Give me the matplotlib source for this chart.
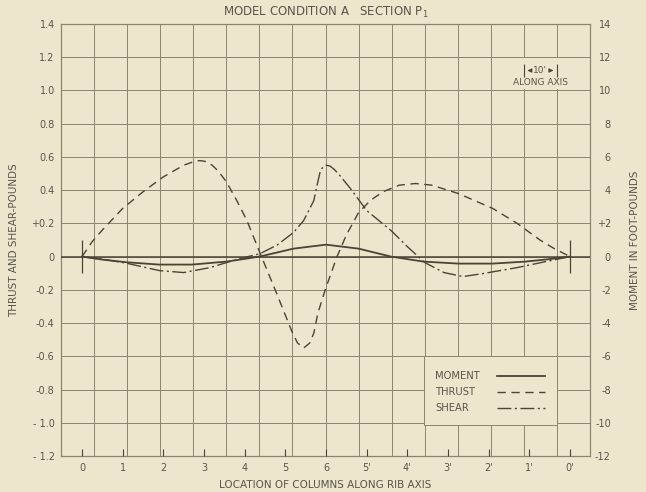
import matplotlib
matplotlib.use("Agg")
import matplotlib.pyplot as plt
from matplotlib.lines import Line2D
from matplotlib.patches import Rectangle

# ---------------- data ----------------
columns = ["0", "1", "2", "3", "4", "5", "6", "5'", "4'", "3'", "2'", "1'", "0'"]
column_pos = list(range(13))

thrust_x = [0, 0.25, 0.5, 1.0, 1.5, 2.0, 2.5, 2.75, 2.9, 3.05, 3.2, 3.35, 3.55, 3.8,
            4.05, 4.38, 4.8, 5.16, 5.3, 5.45, 5.6, 5.7, 5.8, 5.98, 6.27, 6.5, 6.8,
            7.1, 7.4, 7.8, 8.2, 8.6, 9.25, 10.1, 10.7, 11.26, 11.6, 12]
thrust_y = [0, 0.09, 0.16, 0.29, 0.39, 0.48, 0.55, 0.572, 0.578, 0.572, 0.55, 0.515,
            0.45, 0.34, 0.22, 0.02, -0.23, -0.45, -0.52, -0.55, -0.52, -0.46, -0.34,
            -0.2, 0.0, 0.13, 0.265, 0.34, 0.39, 0.43, 0.44, 0.43, 0.38, 0.29, 0.2,
            0.1, 0.05, 0]

shear_x = [0, 0.5, 1.1, 1.9, 2.5, 3.15, 3.55, 4.0, 4.38, 4.8, 5.2, 5.45, 5.7, 5.78,
           5.86, 5.93, 6.0, 6.1, 6.2, 6.3, 6.6, 7.0, 7.6, 8.0, 8.43, 8.9, 9.37, 9.86,
           10.7, 11.4, 12]
shear_y = [0, -0.015, -0.04, -0.084, -0.096, -0.066, -0.036, -0.005, 0.018, 0.07,
           0.145, 0.217, 0.337, 0.43, 0.515, 0.542, 0.55, 0.545, 0.525, 0.5, 0.41,
           0.277, 0.157, 0.06, -0.036, -0.096, -0.12, -0.102, -0.066, -0.03, 0]

moment_x = [0, 0.5, 1.1, 1.9, 2.7, 3.55, 4.05, 4.4, 5.2, 6.0, 6.8, 7.6, 8.4, 9.25,
            10.1, 10.9, 11.5, 12]
moment_y = [0, -0.18, -0.34, -0.48, -0.48, -0.3, -0.12, 0.02, 0.48, 0.72, 0.48,
            0.0, -0.3, -0.42, -0.42, -0.3, -0.15, 0]   # foot-pounds

left_ticks = [1.4, 1.2, 1.0, 0.8, 0.6, 0.4, 0.2, 0.0, -0.2, -0.4, -0.6, -0.8, -1.0, -1.2]
left_labels = ["1.4", "1.2", "1.0", "0.8", "0.6", "0.4", "+0.2", "0", "-0.2", "-0.4",
               "-0.6", "-0.8", "- 1.0", "- 1.2"]
right_ticks = [14, 12, 10, 8, 6, 4, 2, 0, -2, -4, -6, -8, -10, -12]
right_labels = ["14", "12", "10", "8", "6", "4", "+2", "0", "-2", "-4", "-6", "-8",
                "-10", "-12"]
supports = [0, 12]

legend_labels = ["MOMENT", "THRUST", "SHEAR"]

# ---------------- style ----------------
paper = "#EEE6CC"
ink = "#4a4336"
gridc = "#8e846e"
txt = "#5a544b"
plt.rcParams["font.family"] = ["DejaVu Sans"]

styles = {
    "MOMENT": dict(color=ink, lw=1.3, linestyle="-"),
    "THRUST": dict(color=ink, lw=1.0, linestyle=(0, (6, 4))),
    "SHEAR": dict(color=ink, lw=1.0, linestyle=(0, (10, 2.5, 1.5, 2.5))),
}

fig = plt.figure(figsize=(6.46, 4.92), dpi=100, facecolor=paper)
pos = [61 / 646, 1 - 456 / 492, 529 / 646, 432 / 492]

# background paper grid
bg = fig.add_axes(pos, zorder=0)
bg.set_facecolor(paper)
bg.set_xlim(0, 16)
bg.set_ylim(0, 13)
bg.set_xticks(range(17))
bg.set_yticks(range(14))
bg.grid(True, color=gridc, lw=0.7)
bg.tick_params(length=0, labelleft=False, labelbottom=False)
for s in bg.spines.values():
    s.set_color(gridc)
    s.set_linewidth(0.9)

# scale annotation
bg.add_patch(Rectangle((13.2, 11.03), 2.75, 0.94, fc=paper, ec="none", zorder=3))
bg.vlines([14, 15], 11.4, 11.8, color=ink, lw=0.8, zorder=4)
bg.text(14.5, 11.6, "10'", ha="center", va="center", fontsize=6.5, color=txt, zorder=4)
bg.annotate("", xy=(14.02, 11.6), xytext=(14.27, 11.6),
            arrowprops=dict(arrowstyle="-|>,head_length=0.25,head_width=0.12",
                            color=ink, lw=0.7), zorder=4)
bg.annotate("", xy=(14.98, 11.6), xytext=(14.73, 11.6),
            arrowprops=dict(arrowstyle="-|>,head_length=0.25,head_width=0.12",
                            color=ink, lw=0.7), zorder=4)
bg.text(14.5, 11.1, "ALONG AXIS", ha="center", va="bottom", fontsize=6.5,
        color=txt, zorder=4)

# main axes (thrust & shear)
ax = fig.add_axes(pos, zorder=1)
ax.patch.set_visible(False)
for s in ax.spines.values():
    s.set_visible(False)
ax.set_xlim((61 - 82) / 40.67, (590 - 82) / 40.67)
ax.set_ylim(-1.2, 1.4)
ax.set_yticks(left_ticks)
ax.set_yticklabels(left_labels)
ax.tick_params(axis="y", length=0, pad=4.5, labelsize=7, labelcolor=txt)
ax.set_xticks(column_pos)
ax.set_xticklabels(columns)
ax.tick_params(axis="x", direction="in", length=5, width=0.8, color=ink, pad=5,
               labelsize=7, labelcolor=txt)

ax.axhline(0, color=ink, lw=1.1)
ax.vlines(supports, -0.1, 0.1, color=ink, lw=0.9)
ax.plot(thrust_x, thrust_y, **styles["THRUST"])
ax.plot(shear_x, shear_y, **styles["SHEAR"])

ax.set_xlabel("LOCATION OF COLUMNS ALONG RIB AXIS", fontsize=7.5, color=txt,
              labelpad=5)
ax.set_ylabel("THRUST AND SHEAR-POUNDS", fontsize=7.5, color=txt, labelpad=9)

# right axis (moment)
ax2 = ax.twinx()
ax2.set_zorder(2)
ax2.patch.set_visible(False)
for s in ax2.spines.values():
    s.set_visible(False)
ax2.set_ylim(-12, 14)
ax2.set_yticks(right_ticks)
ax2.set_yticklabels(right_labels)
ax2.tick_params(axis="y", length=0, pad=15, labelsize=7, labelcolor=txt)
for lab in ax2.get_yticklabels():
    lab.set_ha("right")
ax2.plot(moment_x, moment_y, **styles["MOMENT"])
ax2.set_ylabel("MOMENT IN FOOT-POUNDS", fontsize=7.5, color=txt, labelpad=14)

# legend box
ax2.add_patch(Rectangle((0.686, 0.072), 0.252, 0.159, transform=ax2.transAxes,
                        fc=paper, ec=gridc, lw=0.7, zorder=5))
for i, name in enumerate(legend_labels):
    yy = 0.185 - i * 0.037
    ax2.text(0.707, yy, name, transform=ax2.transAxes, va="center", ha="left",
             fontsize=7.2, color=txt, zorder=6)
    ax2.add_line(Line2D([0.824, 0.915], [yy, yy], transform=ax2.transAxes,
                        zorder=6, **styles[name]))

fig.text(0.505, 0.975, "MODEL CONDITION A   SECTION P$_{\\mathregular{1}}$",
         ha="center", va="center", fontsize=8.5, color=txt)

fig.savefig("out.png", dpi=100, facecolor=paper)
